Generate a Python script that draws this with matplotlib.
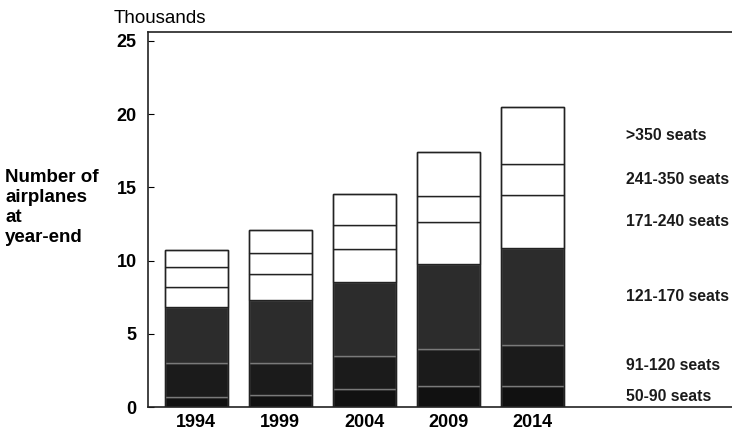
import numpy as np
import matplotlib.pyplot as plt

plt.rcParams['font.family'] = ['Liberation Sans', 'DejaVu Sans']

years = ['1994', '1999', '2004', '2009', '2014']
seat_classes = ['50-90 seats', '91-120 seats', '121-170 seats',
                '171-240 seats', '241-350 seats', '>350 seats']

# thousands of airplanes per seat class (bottom to top)
s_50_90 = [0.70, 0.80, 1.20, 1.40, 1.45]
s_91_120 = [2.30, 2.20, 2.25, 2.55, 2.75]
s_121_170 = [3.85, 4.30, 5.10, 5.80, 6.65]
s_171_240 = [1.35, 1.80, 2.25, 2.90, 3.65]
s_241_350 = [1.35, 1.40, 1.60, 1.75, 2.10]
s_350_up = [1.15, 1.60, 2.15, 3.00, 3.90]

series = [s_50_90, s_91_120, s_121_170, s_171_240, s_241_350, s_350_up]
faces = ['#111111', '#1b1b1b', '#2c2c2c', 'white', 'white', 'white']
edges = ['#7a7a7a', '#7a7a7a', '#7a7a7a', '#222222', '#222222', '#222222']

fig = plt.figure(figsize=(7.32, 4.4), dpi=100)
ax = fig.add_axes([0.202, 0.075, 0.798, 0.852])

x = np.arange(len(years))
bottom = np.zeros(len(years))
for vals, fc, ec in zip(series, faces, edges):
    ax.bar(x, vals, width=0.75, bottom=bottom, color=fc, edgecolor=ec,
           linewidth=1.0, zorder=2)
    bottom += np.array(vals)

# outline of each whole bar
ax.bar(x, bottom, width=0.75, fill=False, edgecolor='#222222', linewidth=1.0, zorder=3)

# class labels beside the 2014 bar
last = [s[-1] for s in series]
cum = np.cumsum(last)
mids = cum - np.array(last) / 2
mids[0] = 0.7
for lab, y in zip(seat_classes, mids):
    ax.text(5.11, y, lab, fontsize=11.3, fontweight='bold', ha='left',
            va='center', color='#1a1a1a')

ax.set_xlim(-0.577, 6.375)
ax.set_ylim(0, 25.6)
ax.set_yticks([0, 5, 10, 15, 20, 25])
ax.set_xticks(x)
ax.set_xticklabels(years)
ax.tick_params(axis='y', direction='in', length=4, labelsize=13, pad=8)
ax.tick_params(axis='x', length=0, labelsize=13, pad=5)
for lab in ax.get_xticklabels() + ax.get_yticklabels():
    lab.set_fontweight('bold')

ax.spines['right'].set_visible(False)
for sp in ['left', 'top', 'bottom']:
    ax.spines[sp].set_linewidth(1.2)
    ax.spines[sp].set_color('#222222')

fig.text(0.155, 0.958, 'Thousands', fontsize=13.5, ha='left', va='center')
fig.text(0.007, 0.528, 'Number of\nairplanes\nat\nyear-end', fontsize=13.5,
         fontweight='bold', ha='left', va='center', linespacing=1.22)

fig.savefig('out.png', dpi=100)
